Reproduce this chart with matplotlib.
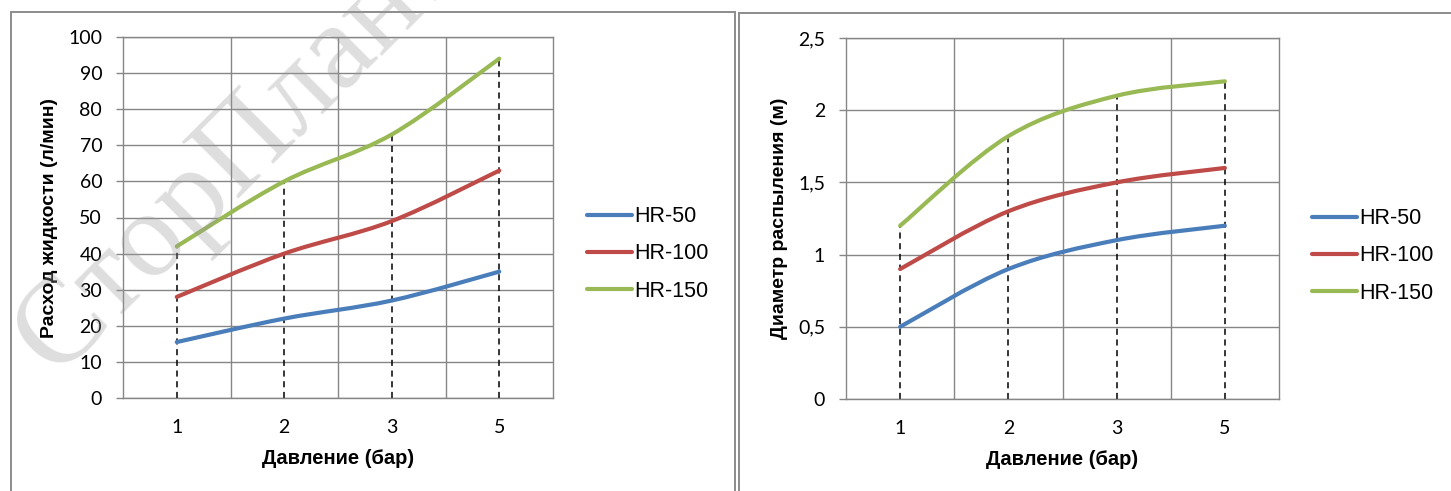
import numpy as np
import matplotlib
matplotlib.use("Agg")
import matplotlib.pyplot as plt
from matplotlib.path import Path
from matplotlib.patches import PathPatch, Rectangle
from matplotlib.lines import Line2D

# data
pressure = ["1", "2", "3", "5"]
series_names = ["HR-50", "HR-100", "HR-150"]
colors = ["#4A7EBB", "#BE4B48", "#98B954"]

flow_hr50 = [15.5, 22, 27, 35]
flow_hr100 = [28, 40, 49, 63]
flow_hr150 = [42, 60, 73, 94]

diam_hr50 = [0.5, 0.9, 1.1, 1.2]
diam_hr100 = [0.9, 1.3, 1.5, 1.6]
diam_hr150 = [1.2, 1.82, 2.1, 2.2]

flow_ticks = [0, 10, 20, 30, 40, 50, 60, 70, 80, 90, 100]
diam_ticks = [0, 0.5, 1, 1.5, 2, 2.5]
diam_ticklabels = ["0", "0,5", "1", "1,5", "2", "2,5"]

W, H = 1451, 491
GRID = "#868686"
TICKFONT = "Lato"
TEXTFONT = "Liberation Sans"


def smooth_path(xs, ys):
    # Excel-like smoothed line: cubic bezier through every point
    pts = np.column_stack([xs, ys]).astype(float)
    n = len(pts)
    verts = [pts[0]]
    codes = [Path.MOVETO]
    for i in range(n - 1):
        p0 = pts[i - 1] if i > 0 else pts[i]
        p1 = pts[i]
        p2 = pts[i + 1]
        p3 = pts[i + 2] if i + 2 < n else pts[i + 1]
        c1 = p1 + (p2 - p0) / 6.0
        c2 = p2 - (p3 - p1) / 6.0
        verts += [c1, c2, p2]
        codes += [Path.CURVE4] * 3
    return Path(verts, codes)


def fx(px):
    return px / W


def fy(py):
    return 1 - py / H


fig = plt.figure(figsize=(W / 100, H / 100), dpi=100)
fig.patch.set_facecolor("white")

# panel frames
for x0, x1, y0 in [(11, 735, 12), (739, 1460, 13)]:
    fig.add_artist(Rectangle((fx(x0), fy(H + 20)), fx(x1) - fx(x0), fy(y0) - fy(H + 20),
                             transform=fig.transFigure, fill=False,
                             edgecolor="#8C8C8C", lw=1.4, clip_on=False))


def draw_panel(rect, data, ymax, ticks, ticklabels, ylabel, ylab_x, leg_x, leg_y):
    ax = fig.add_axes(rect)
    x = np.arange(len(pressure))
    ax.set_xlim(-0.5, len(pressure) - 0.5)
    ax.set_ylim(0, ymax)

    ax.set_xticks(x)
    ax.set_xticklabels(pressure, fontfamily=TICKFONT, fontsize=14)
    ax.set_xticks(x[:-1] + 0.5, minor=True)
    ax.tick_params(axis="x", which="both", length=0, pad=15)
    ax.set_yticks(ticks)
    ax.set_yticklabels(ticklabels, fontfamily=TICKFONT, fontsize=14)
    ax.tick_params(axis="y", length=5, width=1, color=GRID, pad=10)

    ax.grid(True, axis="y", which="major", color=GRID, lw=1.0)
    ax.grid(True, axis="x", which="minor", color=GRID, lw=1.0)
    for s in ax.spines.values():
        s.set_color(GRID)
        s.set_linewidth(1.0)
    ax.set_axisbelow(True)

    # dashed drop lines from the top series
    ax.vlines(x, 0, data[-1], colors="black", linestyles=(0, (4, 3)), lw=1.1, zorder=2)

    for vals, c in zip(data, colors):
        ax.add_patch(PathPatch(smooth_path(x, vals), fill=False, edgecolor=c,
                               lw=3.0, capstyle="round", joinstyle="round", zorder=3))

    ax.set_xlabel("Давление (бар)", fontfamily=TEXTFONT, fontweight="bold", fontsize=14.5)
    ax.xaxis.set_label_coords(0.5, -0.141)
    ax.set_ylabel(ylabel, fontfamily=TEXTFONT, fontweight="bold", fontsize=14)
    ax.yaxis.set_label_coords(ylab_x, 0.5)

    handles = [Line2D([], [], color=c, lw=3.0, solid_capstyle="round") for c in colors]
    fig.legend(handles, series_names, loc="center left",
               bbox_to_anchor=(fx(leg_x), fy(leg_y)), frameon=False,
               prop={"family": TEXTFONT, "size": 15.5}, handlelength=2.1,
               handletextpad=0.1, labelspacing=0.75, borderpad=0, borderaxespad=0)
    return ax


draw_panel([fx(123), fy(398), fx(553) - fx(123), fy(37) - fy(398)],
           [flow_hr50, flow_hr100, flow_hr150], 100, flow_ticks,
           [str(t) for t in flow_ticks], "Расход жидкости (л/мин)", -0.152, 587, 254)

draw_panel([fx(846), fy(399), fx(1279) - fx(846), fy(38) - fy(399)],
           [diam_hr50, diam_hr100, diam_hr150], 2.5, diam_ticks,
           diam_ticklabels, "Диаметр распыления (м)", -0.134, 1312, 256)

# watermark
fig.text(fx(238), fy(152), "СторПлант", fontfamily="Liberation Serif", fontsize=88,
         color="#9a9a9a", alpha=0.33, rotation=45, ha="center", va="center", zorder=10)

fig.savefig("out.png", dpi=100)
